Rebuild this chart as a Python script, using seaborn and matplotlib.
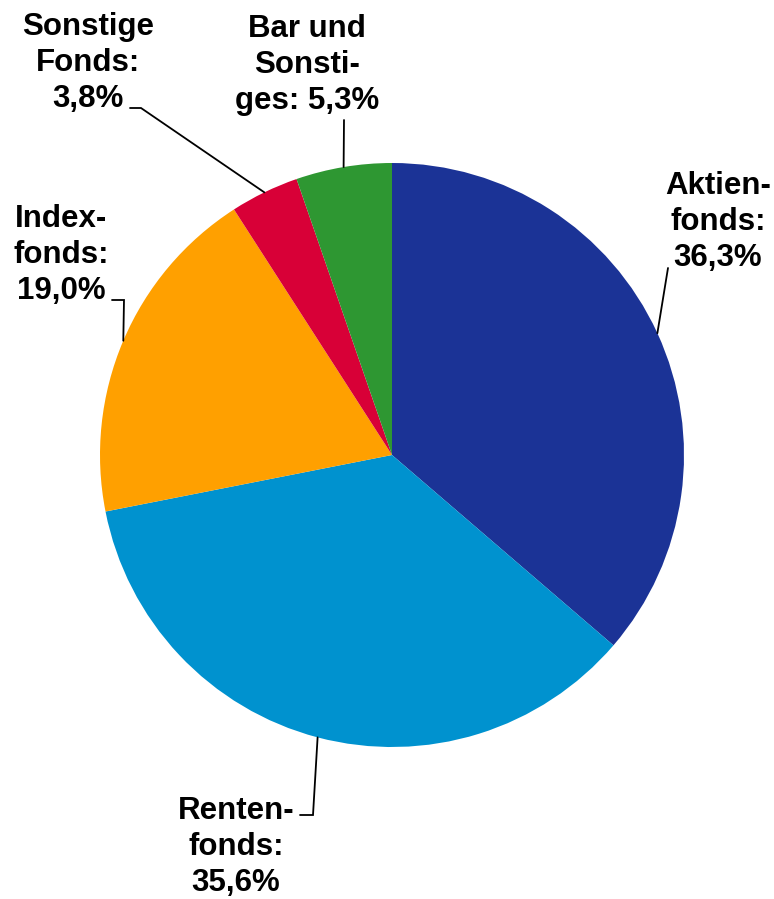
import numpy as np
import matplotlib
matplotlib.use("Agg")
import matplotlib.pyplot as plt
import seaborn as sns

# Fondsvermoegen nach Fondsart (Anteile in %)
labels = ["Aktien-\nfonds:\n36,3%", "Renten-\nfonds:\n35,6%", "Index-\nfonds:\n19,0%",
          "Sonstige\nFonds:\n3,8%", "Bar und\nSonsti-\nges: 5,3%"]
shares = [36.3, 35.6, 19.0, 3.8, 5.3]
colors = ["#1b3396", "#0092cf", "#ffa000", "#d80037", "#2e9732"]

sns.set_theme(style="white")
plt.rcParams["font.family"] = ["Liberation Sans", "DejaVu Sans"]

W, H = 774, 899
fig = plt.figure(figsize=(W / 100, H / 100), dpi=100)
ax = fig.add_axes([0, 0, 1, 1])

cx, cy, r = 392, H - 455, 292
wedges, _ = ax.pie(shares, colors=colors, startangle=90, counterclock=False,
                   center=(cx, cy), radius=r, frame=True,
                   wedgeprops=dict(linewidth=0))
ax.set_xlim(0, W)
ax.set_ylim(0, H)
ax.set_aspect("equal")
ax.axis("off")

# label text anchor (top centre) and leader-line path after the pie edge point
text_pos = [(718, 171), (236, 796), (61, 204), (88, 12), (307, 14)]
paths = [
    [(668, 268)],
    [(313, 815), (300, 815)],
    [(124, 300), (112, 300)],
    [(141, 108), (130, 108)],
    [(344, 120)],
]

for w, lab, (tx, ty), path in zip(wedges, labels, text_pos, paths):
    mid = np.deg2rad((w.theta1 + w.theta2) / 2)
    ex, ey = cx + r * np.cos(mid), cy + r * np.sin(mid)
    xs = [ex] + [p[0] for p in path]
    ys = [ey] + [H - p[1] for p in path]
    ax.plot(xs, ys, color="black", lw=1.3, solid_joinstyle="miter")
    ax.text(tx, H - ty, lab, ha="center", va="top", multialignment="center",
            fontsize=22.5, fontweight="bold", color="black", linespacing=1.27)

fig.savefig("out.png", dpi=100)
